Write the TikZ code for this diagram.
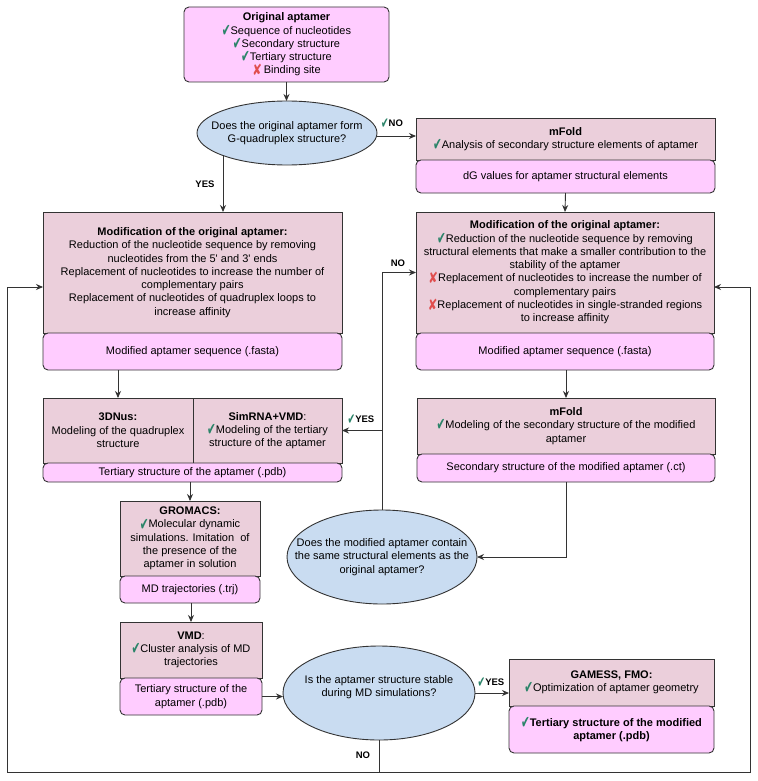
\documentclass[tikz,border=0pt]{standalone}
\usepackage{fontspec}
\newfontfamily\arialf{Liberation Sans}
\newfontfamily\symf{DejaVu Sans}
\usetikzlibrary{shapes.geometric,arrows.meta}
\definecolor{linec}{HTML}{333333}
\definecolor{pinkc}{HTML}{EBCFDB}
\definecolor{magc}{HTML}{FFCCFF}
\definecolor{bluec}{HTML}{C9DCF1}
\definecolor{okc}{HTML}{2B8469}
\definecolor{noc}{HTML}{E04E4E}
\newcommand\ok{{\symf\color{okc}\raisebox{-0.35ex}{\scalebox{0.95}[1.6]{✔}}}}
\newcommand\nok{{\symf\color{noc}\raisebox{-0.25ex}{\scalebox{1.05}[1.4]{✘}}}}
\tikzset{
  base/.style={draw=linec, line width=0.9pt, align=center, inner sep=0pt, outer sep=0pt,
    font=\arialf\fontsize{11}{13.3}\selectfont},
  pbox/.style={base, fill=pinkc, rectangle},
  rbox/.style={base, fill=magc, rounded corners=5pt},
  dec/.style={base, fill=bluec, ellipse},
  txt/.style={align=center, inner sep=0pt, font=\arialf\fontsize{11}{13.3}\selectfont},
  arr/.style={draw=linec, line width=0.9pt, -{Stealth[length=7pt,width=6pt]}},
  ln/.style={draw=linec, line width=0.9pt},
  lab/.style={inner sep=0pt, font=\arialf\bfseries\fontsize{9.5}{11}\selectfont}
}
\begin{document}
\begin{tikzpicture}[x=1pt,y=-1pt]
\useasboundingbox (0,0) rectangle (757,781);
\fill[white] (0,0) rectangle (757,781);

% top
\node[rbox, minimum width=205pt, minimum height=75pt] (top) at (286.5,44.5)
  {\textbf{Original aptamer}\\\ok Sequence of nucleotides\\\ok Secondary structure\\\ok Tertiary structure\\\nok\,Binding site};

% decision 1
\node[dec, minimum width=180pt, minimum height=64pt] (e1) at (287,133) {};
\node[txt] (e1t) at (e1.center) {Does the original aptamer form\\G-quadruplex structure?};

% right top mFold
\node[pbox, minimum width=299pt, minimum height=42pt] (mf1) at (565.5,139)
  {\textbf{mFold}\\\ok Analysis of secondary structure elements of aptamer};
\node[rbox, minimum width=299pt, minimum height=33pt] (dg) at (565.5,176.5)
  {dG values for aptamer structural elements};

% left modification
\node[pbox, minimum width=299pt, minimum height=121pt] (lm) at (192.5,272.5)
  {\textbf{Modification of the original aptamer:}\\Reduction of the nucleotide sequence by removing\\nucleotides from the 5' and 3' ends\\Replacement of nucleotides to increase the number of\\complementary pairs\\Replacement of nucleotides of quadruplex loops to\\increase affinity};
\node[rbox, minimum width=299pt, minimum height=37pt] (lf) at (192.5,351.5)
  {Modified aptamer sequence (.fasta)};

% right modification
\node[pbox, minimum width=298pt, minimum height=121pt] (rm) at (565,272.5)
  {\textbf{Modification of the original aptamer:}\\\ok Reduction of the nucleotide sequence by removing\\structural elements that make a smaller contribution to the\\stability of the aptamer\\\nok Replacement of nucleotides to increase the number of\\complementary pairs\\\nok Replacement of nucleotides in single-stranded regions\\to increase affinity};
\node[rbox, minimum width=298pt, minimum height=37pt] (rf) at (565,351.5)
  {Modified aptamer sequence (.fasta)};

% 3DNus / SimRNA
\node[pbox, minimum width=150pt, minimum height=65pt] (dn) at (118,430.5)
  {\textbf{3DNus:}\\Modeling of the quadruplex\\structure};
\node[pbox, minimum width=149pt, minimum height=65pt] (sr) at (267.5,430.5)
  {\textbf{SimRNA+VMD}:\\\ok Modeling of the tertiary\\structure of the aptamer};
\node[rbox, minimum width=299pt, minimum height=19pt] (t1) at (192.5,472.5)
  {Tertiary structure of the aptamer (.pdb)};

% mFold 2
\node[pbox, minimum width=298pt, minimum height=56pt] (mf2) at (566,426)
  {\textbf{mFold}\\\ok Modeling of the secondary structure of the modified\\aptamer};
\node[rbox, minimum width=298pt, minimum height=28pt] (sec) at (566,468)
  {Secondary structure of the modified aptamer (.ct)};

% GROMACS
\node[pbox, minimum width=140pt, minimum height=75pt] (gro) at (190,538.5)
  {\textbf{GROMACS:}\\\ok Molecular dynamic\\simulations. Imitation\ \ of\\the presence of the\\aptamer in solution};
\node[rbox, minimum width=140pt, minimum height=27pt] (md) at (190,589.5)
  {MD trajectories (.trj)};

% decision 2
\node[dec, minimum width=190pt, minimum height=94pt] (e2) at (382,557) {};
\node[txt] (e2t) at (e2.center) {Does the modified aptamer contain\\the same structural elements as the\\original aptamer?};

% VMD
\node[pbox, minimum width=142pt, minimum height=56pt] (vmd) at (191,650)
  {\textbf{VMD}:\\\ok Cluster analysis of MD\\trajectories};
\node[rbox, minimum width=142pt, minimum height=37pt] (t2) at (191,696.5)
  {Tertiary structure of the\\aptamer (.pdb)};

% decision 3
\node[dec, minimum width=192pt, minimum height=94pt] (e3) at (379,693) {};
\node[txt] (e3t) at ([yshift=6pt]e3.center) {Is the aptamer structure stable\\during MD simulations?};

% GAMESS
\node[pbox, minimum width=205pt, minimum height=47pt] (gam) at (611.5,682.5)
  {\textbf{GAMESS, FMO:}\\\ok Optimization of aptamer geometry};
\node[rbox, minimum width=205pt, minimum height=47pt] (fin) at (611.5,729.5)
  {\textbf{\ok Tertiary structure of the modified}\\\textbf{aptamer (.pdb)}};

% connectors
\draw[arr] (top.south) -- (top.south |- e1.north);
\draw[arr] ([yshift=-3pt]e1.east) -- ([yshift=-3pt]e1.east -| mf1.west);
\coordinate (y1) at (223,155);
\draw[arr] (y1) -- (y1 |- lm.north);
\draw[arr] (dg.south) -- (rm.north);
\draw[arr] (lf.south -| dn.north) -- (dn.north);
\draw[arr] (rf.south -| mf2.north) -- (mf2.north);
\draw[arr] (t1.south -| gro.north) -- (gro.north);
\draw[arr] (md.south -| vmd.north) -- (vmd.north);
\draw[arr] (sec.south) |- (e2.east);
\draw[arr] (e2.north) |- (rm.west);
\draw[arr] (e2.north |- sr.east) -- (sr.east);
\draw[arr] (t2.east) -- (t2.east -| e3.west);
\draw[arr] (e3.east) -- (e3.east -| gam.west);

\coordinate (bl) at (7,772);
\coordinate (br) at (750,772);
\draw[ln] (e3.south) -- (e3.south |- bl);
\draw[arr] (e3.south |- bl) -- (bl) |- ([yshift=-14.5pt]lm.west);
\draw[arr] (e3.south |- bl) -- (br) |- ([yshift=-14.5pt]rm.east);

% labels
\node[lab] (lno1) at (392,124) {\ok NO};
\node[lab] (lyes1) at (205,184) {YES};
\node[lab] (lno2) at (398,263) {NO};
\node[lab] (lyes2) at (361,420) {\ok YES};
\node[lab] (lyes3) at (491,683) {\ok YES};
\node[lab] (lno3) at (363,755) {NO};
\end{tikzpicture}
\end{document}
